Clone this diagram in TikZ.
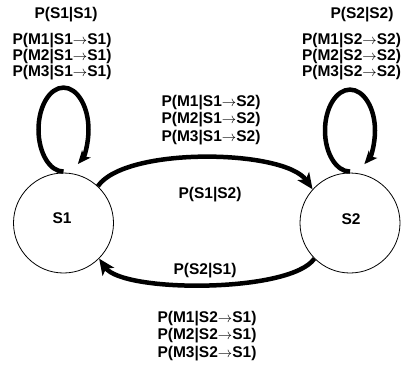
\documentclass[tikz,border=0pt]{standalone}
\usepackage{fontspec}
\setmainfont{Liberation Sans}
\usetikzlibrary{arrows.meta}
\newcommand{\ra}{\ensuremath{\rightarrow}}
\begin{document}
\begin{tikzpicture}[x=1pt,y=1pt,
  state/.style={circle, draw, line width=0.8pt, minimum size=100pt, inner sep=0pt},
  lbl/.style={font=\bfseries\fontsize{15.5}{16}\selectfont, align=center, inner sep=0pt},
  lblw/.style={font=\bfseries\fontsize{15.5}{17.5}\selectfont, align=center, inner sep=0pt},
  trans/.style={line width=4.5pt, -{Stealth[length=16pt,width=14pt,inset=4pt]}},
  selfloop/.style={line width=4.5pt, -{Stealth[length=13pt,width=11pt,inset=3pt]}},
]
\useasboundingbox (0,0) rectangle (404,-369);
\fill[white] (0,0) rectangle (404,-369);
\node[state] (s1) at (63.5,-223) {};
\node[state] (s2) at (350,-223) {};
\node[lbl] (s1t) at (62,-218) {S1};
\node[lbl] (s2t) at (351,-219) {S2};

\draw[selfloop] (s1.north) ++(0,1) arc[start angle=270, end angle=-55, x radius=25, y radius=42];
\draw[selfloop] (s2.north) ++(0,1) arc[start angle=270, end angle=-55, x radius=25, y radius=41];

\draw[trans] (s1.47) to[out=55, in=125, looseness=0.58] (s2.138);
\draw[trans] (s2.225) to[out=-125, in=-55, looseness=0.5] (s1.-45);

\node[lbl] (l11) at (66,-15) {P(S1|S1)};
\node[lbl] (m11) at (62,-57) {P(M1|S1\ra S1)\\P(M2|S1\ra S1)\\P(M3|S1\ra S1)};
\node[lbl] (l22) at (362,-15) {P(S2|S2)};
\node[lbl] (m22) at (351.5,-57) {P(M1|S2\ra S2)\\P(M2|S2\ra S2)\\P(M3|S2\ra S2)};
\node[lblw] (m12) at (211,-120) {P(M1|S1\ra S2)\\P(M2|S1\ra S2)\\P(M3|S1\ra S2)};
\node[lbl] (l12) at (210,-195) {P(S1|S2)};
\node[lbl] (l21) at (205,-271) {P(S2|S1)};
\node[lblw] (m21) at (207,-336) {P(M1|S2\ra S1)\\P(M2|S2\ra S1)\\P(M3|S2\ra S1)};
\end{tikzpicture}
\end{document}
